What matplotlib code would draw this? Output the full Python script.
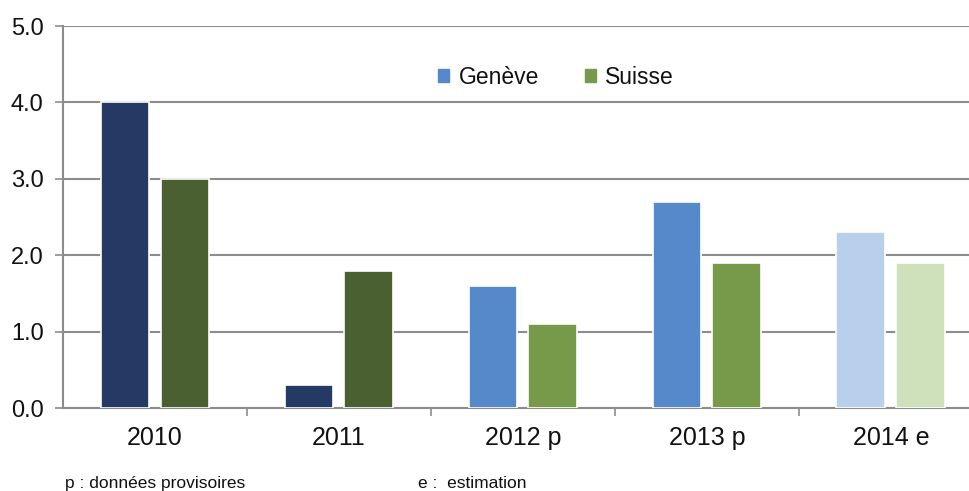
import numpy as np
import matplotlib
matplotlib.use('Agg')
import matplotlib.pyplot as plt
from matplotlib.patches import Patch

plt.rcParams['font.family'] = ['Liberation Sans', 'DejaVu Sans']

# Data
categories = ['2010', '2011', '2012 p', '2013 p', '2014 e']
geneve = [4.0, 0.3, 1.6, 2.7, 2.3]
suisse = [3.0, 1.8, 1.1, 1.9, 1.9]
geneve_colors = ['#243a64', '#243a64', '#5589ca', '#5589ca', '#b9d0ec']
suisse_colors = ['#4a6030', '#4a6030', '#77994a', '#77994a', '#cee1ba']

fig = plt.figure(figsize=(9.69, 4.91), dpi=100)
ax = fig.add_axes([0.065, 0.169, 0.9494, 0.778])

x = np.arange(len(categories))
w = 0.266
off = 0.163
ax.bar(x - off, geneve, w, color=geneve_colors, edgecolor='white', linewidth=1.2, zorder=3)
ax.bar(x + off, suisse, w, color=suisse_colors, edgecolor='white', linewidth=1.2, zorder=3)

ax.set_xlim(-0.5, len(categories) - 0.5)
ax.set_ylim(0, 5)
ax.set_yticks(np.arange(0, 5.01, 1.0))
ax.set_yticklabels(['%.1f' % v for v in np.arange(0, 5.01, 1.0)], fontsize=17, color='#111111')
ax.yaxis.grid(True, color='#8c8c8c', linewidth=1.5, zorder=0)
ax.tick_params(axis='y', length=6, width=1.2, color='#8c8c8c', pad=8)

ax.set_xticks(x)
ax.set_xticklabels(categories, fontsize=18, color='#111111')
ax.tick_params(axis='x', which='major', length=0, pad=13)
ax.set_xticks(np.arange(0.5, len(categories) - 0.5, 1.0), minor=True)
ax.tick_params(axis='x', which='minor', length=6, width=1.2, color='#8c8c8c')

for s in ['top', 'right']:
    ax.spines[s].set_visible(False)
for s in ['left', 'bottom']:
    ax.spines[s].set_color('#8c8c8c')
    ax.spines[s].set_linewidth(1.5)

handles = [Patch(color='#5589ca', label='Genève'), Patch(color='#77994a', label='Suisse')]
ax.legend(handles=handles, loc='upper center', bbox_to_anchor=(0.536, 0.95), ncol=2,
          frameon=False, fontsize=16.5, handlelength=0.5, handleheight=0.5,
          handletextpad=0.4, columnspacing=2.0, labelcolor='#111111')

fig.text(0.067, 0.006, 'p : données provisoires', fontsize=12.5, color='#111111', fontstretch='condensed')
fig.text(0.431, 0.006, 'e :  estimation', fontsize=12.5, color='#111111', fontstretch='condensed')

fig.savefig('out.png', dpi=100)
